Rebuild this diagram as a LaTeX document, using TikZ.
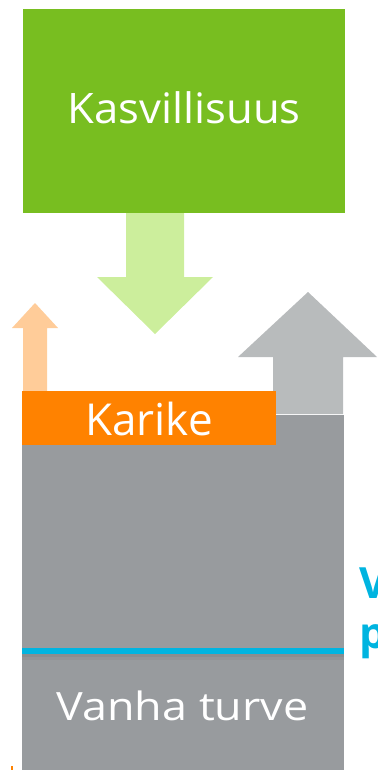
\documentclass[tikz,border=0pt]{standalone}
\usepackage{fontspec}
\setmainfont{Open Sans}
\definecolor{vgreen}{HTML}{78BE20}
\definecolor{lgreen}{HTML}{CCEE9C}
\definecolor{vorange}{HTML}{FF8200}
\definecolor{lorange}{HTML}{FFCC99}
\definecolor{garrow}{HTML}{B8BBBC}
\definecolor{gbox}{HTML}{989B9E}
\definecolor{vblue}{HTML}{00B4E0}
\begin{document}
\begin{tikzpicture}[x=1pt,y=-1pt,
  boxtext/.style={text=white,font=\fontsize{#1}{#1}\selectfont,inner sep=0pt,anchor=base},
  bluetext/.style={text=vblue,font=\bfseries\fontsize{43}{43}\selectfont,inner sep=0pt,anchor=base west}]
\useasboundingbox (0,0) rectangle (377,770);
\begin{scope}
\clip (0,0) rectangle (377,770);
% green box
\fill[vgreen] (23,9) rectangle (345,213);
\node[boxtext=42,xscale=1.04] (kas) at (184,124) {Kasvillisuus};
% green arrow down
\fill[lgreen] (126,213) -- (184,213) -- (184,277) -- (213,277) -- (155,334) -- (97,277) -- (126,277) -- cycle;
% orange small arrow up
\fill[lorange] (23,391) -- (23,328) -- (12,328) -- (35,303) -- (58,328) -- (47,328) -- (47,391) -- cycle;
% gray arrow up
\fill[garrow] (273,414) -- (273,357) -- (238,357) -- (308,292) -- (377,357) -- (343,357) -- (343,414) -- cycle;
% gray peat box
\fill[gbox] (22,415) rectangle (344,770);
% karike box
\fill[vorange] (22,391) rectangle (276,445);
\node[boxtext=44] (kar) at (149,435.5) {Karike};
% blue line with shadow
\fill[black,opacity=0.09] (22,654) rectangle (344,657);
\fill[black,opacity=0.04] (22,657) rectangle (344,660);
\draw[vblue,line width=5.5pt] (22,651) -- (344,651);
\node[boxtext=39,xscale=1.15] (van) at (182.5,720.5) {Vanha turve};
% cut-off blue text
\node[bluetext] (v1) at (359,598) {V};
\node[bluetext] (p1) at (359,648) {p};
% small orange mark
\fill[vorange] (11,766) rectangle (13,770);
\end{scope}
\end{tikzpicture}
\end{document}
